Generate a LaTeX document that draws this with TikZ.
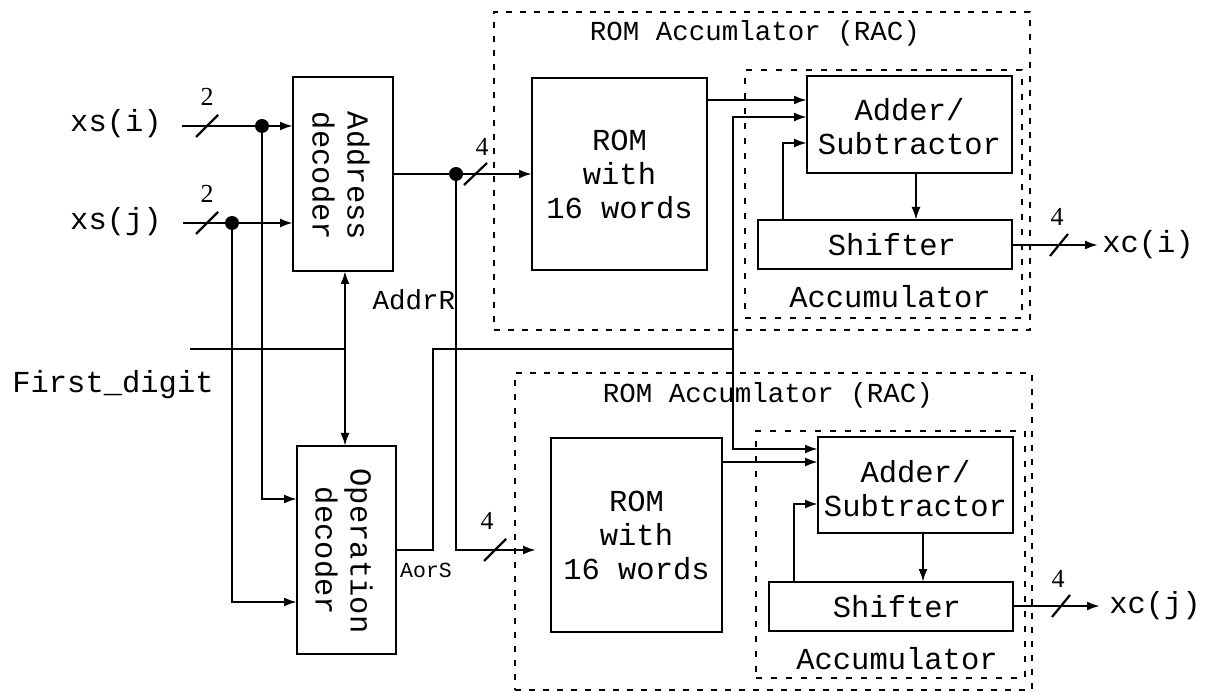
\documentclass[tikz,border=0pt]{standalone}
\usepackage{fontspec}
\setmainfont{Liberation Serif}
\newfontfamily\monof{Liberation Mono}
\usetikzlibrary{arrows.meta}
\begin{document}
\begin{tikzpicture}[x=1pt,y=-1pt]
\tikzset{
  w/.style={line width=2.2pt},
  a/.style={w, -{Latex[length=13pt,width=9pt]}},
  ab/.style={w, {Latex[length=13pt,width=9pt]}-{Latex[length=13pt,width=9pt]}},
  blk/.style={draw, line width=2.2pt, inner sep=0pt, outer sep=0pt},
  racbox/.style={draw, line width=2.2pt, dash pattern=on 6pt off 8pt, inner sep=0pt, outer sep=0pt},
  accbox/.style={draw, line width=2pt, dash pattern=on 6pt off 9pt, inner sep=0pt, outer sep=0pt},
  txt/.style={font=\monof\fontsize{30.5}{34}\selectfont, align=center, inner sep=0pt},
  rtxt/.style={txt, rotate=-90, font=\monof\fontsize{30.5}{35}\selectfont},
  smtxt/.style={font=\monof\fontsize{27.5}{30}\selectfont, inner sep=0pt},
  tiny/.style={font=\monof\fontsize{21.5}{24}\selectfont, inner sep=0pt},
  num/.style={font=\fontsize{26}{26}\selectfont, inner sep=0pt},
  dotn/.style={circle, fill, inner sep=0pt, minimum size=14pt},
}
\useasboundingbox (0,0) rectangle (1208,692);

% containers
\node[racbox, minimum width=536pt, minimum height=318pt] (rac1) at (762,171) {};
\node[accbox, minimum width=277pt, minimum height=248pt] (acc1) at (883.5,194) {};
\node[racbox, minimum width=517pt, minimum height=317pt] (rac2) at (773.5,531.5) {};
\node[accbox, minimum width=269pt, minimum height=247pt] (acc2) at (890.5,554.5) {};
\node[smtxt] (rac1t) at (755,33) {ROM Accumlator (RAC)};
\node[smtxt] (rac2t) at (768,395) {ROM Accumlator (RAC)};
\node[txt] (acc1t) at (890,297) {Accumulator};
\node[txt] (acc2t) at (897,659) {Accumulator};

% blocks
\node[blk, minimum width=100pt, minimum height=194pt] (ad) at (343,174) {};
\node[rtxt] (adt) at (341,176) {Address\\decoder};
\node[blk, minimum width=99pt, minimum height=208pt] (od) at (346.5,550) {};
\node[rtxt] (odt) at (344,551) {Operation\\decoder};
\node[blk, minimum width=175pt, minimum height=192pt, txt, align=center] (rom1) at (619.5,174) {ROM\\with\\16 words};
\node[blk, minimum width=171pt, minimum height=194pt, txt, align=center] (rom2) at (636.5,535) {ROM\\with\\16 words};
\node[blk, minimum width=205pt, minimum height=97pt] (add1) at (909.5,124.5) {};
\node[txt] (add1t) at (909.5,127) {Adder/\\Subtractor};
\node[blk, minimum width=195pt, minimum height=96pt] (add2) at (915.5,485) {};
\node[txt] (add2t) at (915.5,489) {Adder/\\Subtractor};
\node[blk, minimum width=254pt, minimum height=49pt] (sh1) at (885,244.5) {};
\node[txt] (sh1t) at (892,245) {Shifter};
\node[blk, minimum width=244pt, minimum height=49pt] (sh2) at (891,606.5) {};
\node[txt] (sh2t) at (897,607) {Shifter};

% io labels
\node[txt] (xsi) at (116,124) {xs(i)};
\node[txt] (xsj) at (116,222) {xs(j)};
\node[txt] (fd) at (113,385) {First\_digit};
\node[smtxt] (addr) at (414,300) {AddrR};
\node[tiny] (aors) at (426,570) {AorS};
\node[txt] (xci) at (1148,245) {xc(i)};
\node[txt] (xcj) at (1155,606) {xc(j)};
\node[num] (n2a) at (207,97) {2};
\node[num] (n2b) at (207,194) {2};
\node[num] (n4a) at (482,147) {4};
\node[num] (n4b) at (487,521) {4};
\node[num] (n4c) at (1057,217) {4};
\node[num] (n4d) at (1058,579) {4};

% coordinates
\coordinate (xsiS) at (182,126);
\coordinate (xsjS) at (183,223);
\node[dotn] (di) at (262,126) {};
\node[dotn] (dj) at (232,223) {};
\node[dotn] (da) at (456,174) {};
\coordinate (y499) at (0,499);
\coordinate (y602) at (0,602);
\coordinate (r2in) at (536,550);
\coordinate (fdS) at (190,349);
\coordinate (fdJ) at (345,349);
\coordinate (aoA) at (433,550);
\coordinate (aoB) at (733,349);
\coordinate (y117) at (0,117);
\coordinate (y449) at (0,449);
\coordinate (y100) at (0,100);
\coordinate (y462) at (0,462);
\coordinate (x916) at (916,0);
\coordinate (x923) at (923,0);
\coordinate (x783) at (783,0);
\coordinate (x794) at (794,0);
\coordinate (y143) at (0,143);
\coordinate (y504) at (0,504);
\coordinate (y245) at (0,245);
\coordinate (y606) at (0,606);
\coordinate (xco1) at (1098,245);
\coordinate (xco2) at (1100,606);

% connectors
\draw[a] (xsiS) -- (ad.west |- xsiS);
\draw[a] (xsjS) -- (ad.west |- xsjS);
\draw[a] (di.center) |- (od.west |- y499);
\draw[a] (dj.center) |- (od.west |- y602);
\draw[w] (ad.east |- da) -- (da.center);
\draw[a] (da.center) -- (rom1.west |- da);
\draw[a] (da.center) |- (r2in);
\draw[w] (fdS) -- (fdJ);
\draw[ab] (ad.south -| fdJ) -- (od.north -| fdJ);
\draw[w] (od.east |- aoA) -- (aoA) |- (aoB);
\draw[a] (aoB) |- (add1.west |- y117);
\draw[a] (aoB) |- (add2.west |- y449);
\draw[a] (rom1.east |- y100) -- (add1.west |- y100);
\draw[a] (rom2.east |- y462) -- (add2.west |- y462);
\draw[a] (add1.south -| x916) -- (sh1.north -| x916);
\draw[a] (add2.south -| x923) -- (sh2.north -| x923);
\draw[a] (sh1.north -| x783) |- (add1.west |- y143);
\draw[a] (sh2.north -| x794) |- (add2.west |- y504);
\draw[a] (sh1.east |- y245) -- (xco1);
\draw[a] (sh2.east |- y606) -- (xco2);

% bus slashes
\draw[w] (196,137) -- (218,115);
\draw[w] (196,234) -- (218,212);
\draw[w] (464,185) -- (487,163);
\draw[w] (484,561) -- (506,539);
\draw[w] (1050,256) -- (1068,234);
\draw[w] (1052,617) -- (1070,595);
\end{tikzpicture}
\end{document}
